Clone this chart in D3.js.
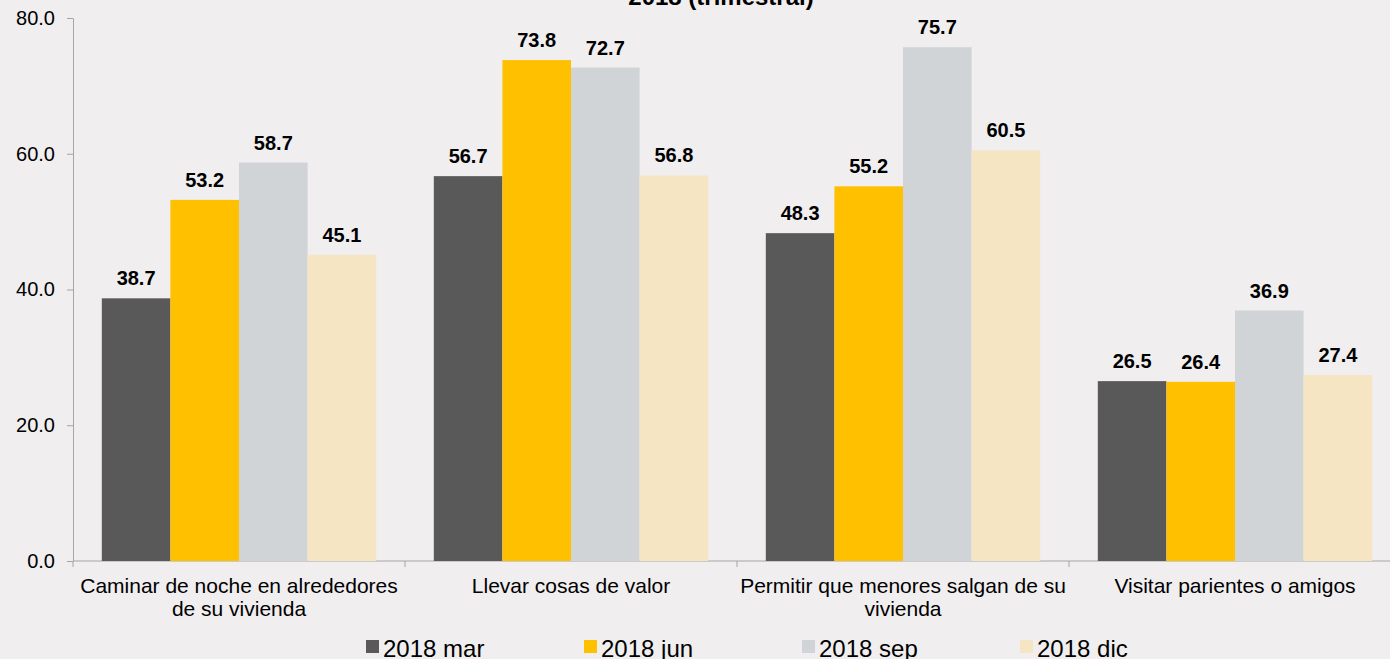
<!DOCTYPE html>
<html>
<head>
<meta charset="utf-8">
<script src="https://cdn.jsdelivr.net/npm/d3@7"></script>
<style>
  html, body { margin: 0; padding: 0; background: #f0eeef; }
  svg { display: block; font-family: "Liberation Sans", Arial, sans-serif; }
  .axis path, .axis line { stroke: #a6a6a6; }
  .axis text { fill: #000; font-size: 20px; }
  .axis text.cat { font-size: 21px; }
</style>
</head>
<body>
<div id="chart"></div>
<script>
// data
var categories = [
    ["Caminar de noche en alrededores", "de su vivienda"],
    ["Llevar cosas de valor"],
    ["Permitir que menores salgan de su", "vivienda"],
    ["Visitar parientes o amigos"]
];
var seriesNames = ["2018 mar", "2018 jun", "2018 sep", "2018 dic"];
var mar = [38.7, 56.7, 48.3, 26.5];
var jun = [53.2, 73.8, 55.2, 26.4];
var sep = [58.7, 72.7, 75.7, 36.9];
var dic = [45.1, 56.8, 60.5, 27.4];
var colors = ["#595959", "#ffc000", "#d1d4d7", "#f5e5c3"];
var yTicks = [0, 20, 40, 60, 80];

var series = [mar, jun, sep, dic];

var svg = d3.select("#chart")
    .append("svg")
    .attr("width", 1390)
    .attr("height", 659),
    margin = { top: 18, left: 73, bottom: 98 },
    height = 659 - margin.top - margin.bottom;

var g = svg.append("g")
    .attr("transform", "translate(" + margin.left + "," + margin.top + ")");

// groups are 332px wide, last one runs off the right edge
var x0 = d3.scaleBand()
    .domain(d3.range(categories.length))
    .range([0, 1328])
    .paddingInner(0)
    .paddingOuter(0);

var x1 = d3.scaleBand()
    .domain(d3.range(seriesNames.length))
    .range([0, x0.bandwidth()])
    .paddingOuter(0.42);

var y = d3.scaleLinear()
    .domain([0, 80])
    .range([height, 0]);

// Y axis
g.append("g")
    .attr("class", "axis")
    .call(d3.axisLeft(y)
        .tickValues(yTicks)
        .tickSize(6)
        .tickSizeOuter(0)
        .tickPadding(12)
        .tickFormat(d3.format(".1f")));

// X axis line with ticks at group boundaries
var xAxis = g.append("g")
    .attr("class", "axis")
    .attr("transform", "translate(0," + height + ")");
xAxis.append("line")
    .attr("x1", 0).attr("x2", 1328)
    .attr("stroke", "#a6a6a6");
xAxis.selectAll("line.tk")
    .data(d3.range(categories.length + 1))
    .enter().append("line")
    .attr("class", "tk")
    .attr("x1", function (d) { return d * x0.bandwidth(); })
    .attr("x2", function (d) { return d * x0.bandwidth(); })
    .attr("y1", 0).attr("y2", 6);

// category labels
var catText = xAxis.selectAll("text.cat")
    .data(categories)
    .enter().append("text")
    .attr("class", "cat")
    .attr("text-anchor", "middle")
    .attr("transform", function (d, i) { return "translate(" + (x0(i) + x0.bandwidth() / 2) + ",32)"; });
catText.selectAll("tspan")
    .data(function (d) { return d; })
    .enter().append("tspan")
    .attr("x", 0)
    .attr("dy", function (d, i) { return i === 0 ? 0 : 23; })
    .text(function (d) { return d; });

// bars
var groups = g.selectAll("g.grp")
    .data(categories)
    .enter().append("g")
    .attr("class", "grp")
    .attr("transform", function (d, i) { return "translate(" + x0(i) + ",0)"; });

groups.each(function (d, ci) {
    var grp = d3.select(this);
    var vals = series.map(function (s, si) { return { si: si, v: s[ci] }; });
    grp.selectAll("rect")
        .data(vals)
        .enter().append("rect")
        .attr("x", function (e) { return x1(e.si); })
        .attr("width", x1.bandwidth())
        .attr("y", function (e) { return y(e.v); })
        .attr("height", function (e) { return height - y(e.v); })
        .attr("fill", function (e) { return colors[e.si]; });
    grp.selectAll("text")
        .data(vals)
        .enter().append("text")
        .attr("x", function (e) { return x1(e.si) + x1.bandwidth() / 2; })
        .attr("y", function (e) { return y(e.v) - 13; })
        .attr("text-anchor", "middle")
        .style("font-size", "20px")
        .style("font-weight", "bold")
        .text(function (e) { return d3.format(".1f")(e.v); });
});

// title, mostly cut off at the top
svg.append("text")
    .attr("x", 721)
    .attr("y", 5)
    .attr("text-anchor", "middle")
    .style("font-size", "24px")
    .style("font-weight", "bold")
    .text("2018 (trimestral)");

// legend
var legend = svg.append("g")
    .attr("transform", "translate(366,0)");
var item = legend.selectAll("g")
    .data(seriesNames)
    .enter().append("g")
    .attr("transform", function (d, i) { return "translate(" + (i * 218) + ",0)"; });
item.append("rect")
    .attr("y", 640)
    .attr("width", 13)
    .attr("height", 13)
    .attr("fill", function (d, i) { return colors[i]; });
item.append("text")
    .attr("x", 17)
    .attr("y", 657)
    .style("font-size", "24px")
    .text(function (d) { return d; });
</script>
</body>
</html>
